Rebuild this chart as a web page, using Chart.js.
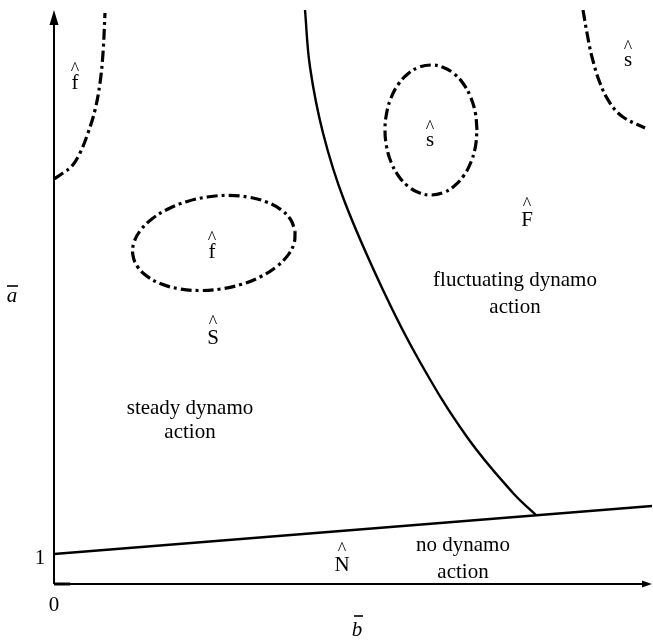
<!DOCTYPE html>
<html>
<head>
<meta charset="utf-8">
<script src="https://cdn.jsdelivr.net/npm/chart.js@4/dist/chart.umd.min.js"></script>
<style>
html,body{margin:0;padding:0;background:#fff;}
#c{display:block;}
</style>
</head>
<body>
<canvas id="c" width="653" height="644"></canvas>
<script>
// Axis ranges (schematic units)
const xRange = [0, 59.8];
const yRange = [0, 57.4];

// No-dynamo boundary (straight line)
const noDynamoX = [0, 59.8];
const noDynamoY = [3.0, 7.8];

// Steady / fluctuating boundary (solid curve)
const boundaryX = [25.1, 25.6, 26.9, 29.0, 32.9, 36.6, 41.3, 45.9, 48.2];
const boundaryY = [57.4, 51.7, 45.1, 38.4, 29.4, 22.2, 14.7, 9.1, 6.9];

// Top-left dash-dot curve (f region)
const topLeftX = [0, 0.9, 1.8, 2.6, 3.4, 4.1, 4.6, 4.9, 5.1];
const topLeftY = [40.5, 41.1, 41.8, 43.1, 45.1, 47.4, 50.1, 53.1, 57.1];

// Top-right dash-dot curve (s region)
const topRightX = [52.9, 53.3, 53.8, 54.6, 55.6, 56.9, 59.1];
const topRightY = [57.4, 55.1, 52.7, 50.1, 48.1, 46.7, 45.6];

// Left closed dash-dot loop (f island)
const loopFX = [24.11, 24.01, 23.36, 22.21, 20.64, 18.76, 16.68, 14.56, 12.53, 10.75, 9.32, 8.34, 7.89, 7.99, 8.64, 9.79, 11.36, 13.24, 15.32, 17.44, 19.47, 21.25, 22.68, 23.66, 24.11];
const loopFY = [35.30, 34.07, 32.84, 31.70, 30.72, 29.97, 29.50, 29.35, 29.52, 30.00, 30.76, 31.75, 32.90, 34.13, 35.36, 36.50, 37.48, 38.23, 38.70, 38.86, 38.68, 38.20, 37.44, 36.45, 35.30];

// Right closed dash-dot loop (s island)
const loopSX = [42.30, 42.14, 41.68, 40.95, 40.00, 38.89, 37.70, 36.51, 35.40, 34.45, 33.72, 33.26, 33.10, 33.26, 33.72, 34.45, 35.40, 36.51, 37.70, 38.89, 40.00, 40.95, 41.68, 42.14, 42.30];
const loopSY = [45.40, 47.08, 48.65, 50.00, 51.03, 51.68, 51.90, 51.68, 51.03, 50.00, 48.65, 47.08, 45.40, 43.72, 42.15, 40.80, 39.77, 39.12, 38.90, 39.12, 39.77, 40.80, 42.15, 43.72, 45.40];

// Tick labels
const tickLabels = [{text: "1", x: 0, y: 2.6, dx: -14}, {text: "0", x: 0, y: 0, dy: 21}];

// Region labels: [text, x, y, hat offset]
const regionLabels = [
  ["f", 2.1, 50.1, 16],
  ["f", 15.8, 33.2, 16],
  ["s", 37.6, 44.4, 15],
  ["s", 57.4, 52.4, 15],
  ["F", 47.3, 36.4, 18],
  ["S", 15.9, 24.6, 18],
  ["N", 28.8, 1.9, 18],
  ["fluctuating dynamo", 46.1, 30.4, 0],
  ["action", 46.1, 27.7, 0],
  ["steady dynamo", 13.6, 17.6, 0],
  ["action", 13.6, 15.2, 0],
  ["no dynamo", 40.9, 3.9, 0],
  ["action", 40.9, 1.2, 0]
];

// Axis titles
const xTitle = "b";
const yTitle = "a";

function pts(xs, ys){ return xs.map((x,i)=>({x:x, y:ys[i]})); }

const dashDot = [11, 4, 3, 4];

const overlay = {
  id: 'overlay',
  afterDatasetsDraw(chart){
    const ctx = chart.ctx;
    const xs = chart.scales.x, ys = chart.scales.y;
    const X = v => xs.getPixelForValue(v), Y = v => ys.getPixelForValue(v);
    const x0 = X(0), y0 = Y(0), xEnd = X(xRange[1]), yTop = Y(yRange[1]);
    ctx.save();
    ctx.strokeStyle = '#000'; ctx.fillStyle = '#000';
    ctx.lineWidth = 2;
    // y axis
    ctx.beginPath(); ctx.moveTo(x0, y0); ctx.lineTo(x0, yTop + 12); ctx.stroke();
    ctx.beginPath(); ctx.moveTo(x0, yTop); ctx.lineTo(x0 - 4.5, yTop + 15); ctx.lineTo(x0 + 4.5, yTop + 15); ctx.closePath(); ctx.fill();
    // x axis
    ctx.beginPath(); ctx.moveTo(x0, y0); ctx.lineTo(xEnd - 8, y0); ctx.stroke();
    ctx.beginPath(); ctx.moveTo(xEnd, y0); ctx.lineTo(xEnd - 10, y0 - 3.5); ctx.lineTo(xEnd - 10, y0 + 3.5); ctx.closePath(); ctx.fill();
    ctx.lineWidth = 3;
    ctx.beginPath(); ctx.moveTo(x0, y0); ctx.lineTo(x0 + 16, y0); ctx.stroke();

    const font = '21px "Liberation Serif", "Times New Roman", serif';
    ctx.textAlign = 'center'; ctx.textBaseline = 'middle';
    ctx.font = font;
    tickLabels.forEach(t => {
      ctx.fillText(t.text, X(t.x) + (t.dx||0), Y(t.y) + (t.dy||0));
    });
    regionLabels.forEach(([txt, x, y, hat]) => {
      const px = X(x), py = Y(y);
      ctx.font = font;
      ctx.fillText(txt, px, py);
      if (hat) {
        ctx.font = '18px "Liberation Serif", serif';
        ctx.fillText('^', px, py - hat + 3);
      }
    });
    // axis titles
    ctx.font = 'italic 21px "Liberation Serif", serif';
    const bx = X(30.3), by = y0 + 46;
    ctx.fillText(xTitle, bx, by);
    ctx.lineWidth = 1.6;
    ctx.beginPath(); ctx.moveTo(bx - 3, by - 14); ctx.lineTo(bx + 6, by - 14); ctx.stroke();
    const ax = 12, ay = Y(28.8);
    ctx.fillText(yTitle, ax, ay);
    ctx.beginPath(); ctx.moveTo(ax - 5, ay - 10); ctx.lineTo(ax + 6, ay - 10); ctx.stroke();
    ctx.restore();
  }
};

const common = {showLine: true, pointRadius: 0, borderColor: '#000', backgroundColor: '#000', fill: false};

new Chart(document.getElementById('c'), {
  type: 'scatter',
  data: {
    datasets: [
      Object.assign({label: 'no dynamo boundary', data: pts(noDynamoX, noDynamoY), borderWidth: 2.6, tension: 0}, common),
      Object.assign({label: 'steady/fluctuating boundary', data: pts(boundaryX, boundaryY), borderWidth: 2.4, tension: 0.4}, common),
      Object.assign({label: 'f top-left', data: pts(topLeftX, topLeftY), borderWidth: 3.2, borderDash: dashDot, tension: 0.4}, common),
      Object.assign({label: 's top-right', data: pts(topRightX, topRightY), borderWidth: 3.2, borderDash: dashDot, tension: 0.4}, common),
      Object.assign({label: 'f island', data: pts(loopFX, loopFY), borderWidth: 3.2, borderDash: dashDot, tension: 0.4}, common),
      Object.assign({label: 's island', data: pts(loopSX, loopSY), borderWidth: 3.2, borderDash: dashDot, tension: 0.4}, common)
    ]
  },
  options: {
    responsive: false,
    animation: false,
    layout: {padding: {left: 54, right: 1, top: 10, bottom: 60}},
    plugins: {legend: {display: false}, tooltip: {enabled: false}},
    scales: {
      x: {type: 'linear', min: xRange[0], max: xRange[1], display: false},
      y: {type: 'linear', min: yRange[0], max: yRange[1], display: false}
    }
  },
  plugins: [overlay]
});
</script>
</body>
</html>
